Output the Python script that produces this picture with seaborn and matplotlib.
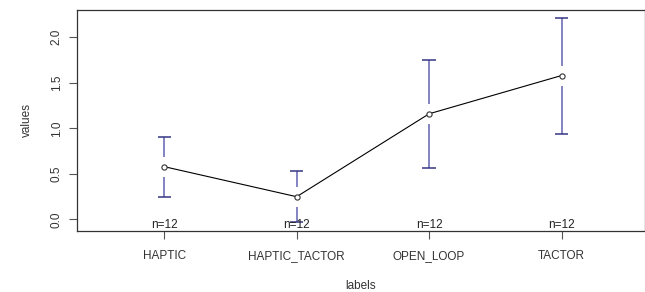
import numpy as np
import pandas as pd
import matplotlib
matplotlib.use('Agg')
import matplotlib.pyplot as plt
import seaborn as sns

# dados
labels = ['HAPTIC', 'HAPTIC_TACTOR', 'OPEN_LOOP', 'TACTOR']
means = [0.58, 0.25, 1.16, 1.58]
ci_low = [0.25, -0.03, 0.57, 0.94]
ci_high = [0.91, 0.53, 1.75, 2.21]
counts = [12, 12, 12, 12]

df = pd.DataFrame({'x': np.arange(1, len(labels) + 1), 'values': means,
                   'low': ci_low, 'high': ci_high})

sns.set_style('white')
plt.rcParams['font.family'] = ['Liberation Sans', 'DejaVu Sans']

fig = plt.figure(figsize=(6.45, 2.92), dpi=100)
ax = fig.add_axes([0.119, 0.209, 0.881, 0.757])

bar_col = '#6262b0'
gap = 0.11
capw = 0.05
for _, r in df.iterrows():
    ax.vlines(r['x'], r['values'] + gap, r['high'], color=bar_col, lw=1.1)
    ax.vlines(r['x'], r['low'], r['values'] - gap, color=bar_col, lw=1.1)
    ax.hlines([r['high'], r['low']], r['x'] - capw, r['x'] + capw, color='#353585', lw=1.1)

sns.lineplot(data=df, x='x', y='values', color='black', lw=0.8, ax=ax)
ax.scatter(df['x'], df['values'], s=14, facecolors='white', edgecolors='#333333',
           linewidths=0.8, zorder=3)

ax.set_xlim(0.34, 4.63)
ax.set_ylim(-0.126, 2.30)

for xi, n in zip(df['x'], counts):
    ax.text(xi, -0.126, f'n={n}', ha='center', va='bottom', fontsize=8.5, color='#222222')

ax.set_xticks(df['x'])
ax.set_xticklabels(labels)
ax.set_yticks([0.0, 0.5, 1.0, 1.5, 2.0])
ax.set_yticklabels(['0.0', '0.5', '1.0', '1.5', '2.0'], rotation=90, va='center')
ax.tick_params(axis='both', direction='out', length=6, width=0.8, color='#555555',
               labelsize=8.5, labelcolor='#333333', bottom=True, left=True)
ax.tick_params(axis='x', pad=8)
ax.tick_params(axis='y', pad=4)
ax.set_xlabel('labels', fontsize=8.5, color='#333333', labelpad=13)
ax.set_ylabel('values', fontsize=8.5, color='#333333', labelpad=13)
for s in ax.spines.values():
    s.set_color('#333333')
    s.set_linewidth(0.9)

fig.savefig('out.png', dpi=100)
